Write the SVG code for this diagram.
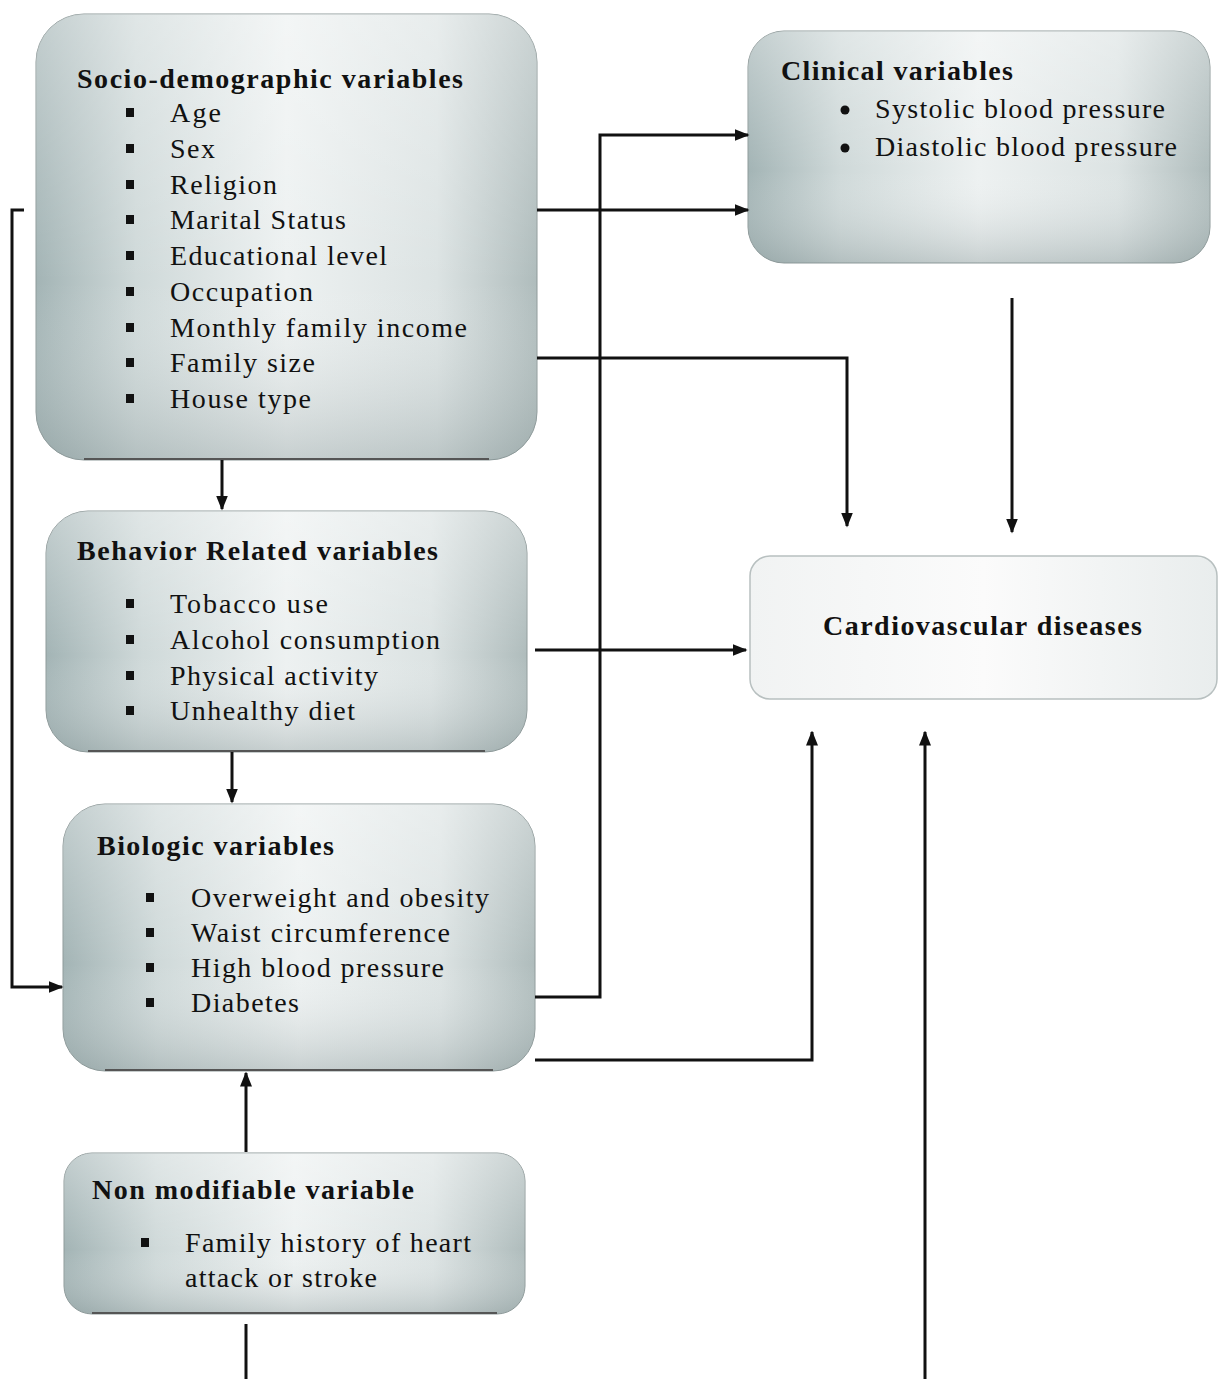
<svg xmlns="http://www.w3.org/2000/svg" width="1224" height="1379" viewBox="0 0 1224 1379">
<style>
.t{font-family:"Liberation Serif","Times New Roman",serif;fill:#111}
.h{font-size:28px;font-weight:bold}
.i{font-size:28px}
.c{stroke:#111;stroke-width:3;fill:none}
.box{fill:url(#gH);stroke:#8e9a9a;stroke-width:1}
.shade{fill:url(#gV)}
</style>
<defs>
<linearGradient id="gH" x1="0" y1="0" x2="1" y2="0">
<stop offset="0" stop-color="#a3b4b5"/>
<stop offset="0.2" stop-color="#cfd9d9"/>
<stop offset="0.5" stop-color="#edf1f1"/>
<stop offset="0.8" stop-color="#dce3e3"/>
<stop offset="1" stop-color="#afbcbc"/>
</linearGradient>
<linearGradient id="gV" x1="0" y1="0" x2="0" y2="1">
<stop offset="0" stop-color="#ffffff" stop-opacity="0.35"/>
<stop offset="0.6" stop-color="#ffffff" stop-opacity="0"/>
<stop offset="1" stop-color="#7f8f90" stop-opacity="0.35"/>
</linearGradient>
<linearGradient id="gL" x1="0" y1="0" x2="1" y2="0">
<stop offset="0" stop-color="#f1f3f3"/>
<stop offset="0.5" stop-color="#fbfbfb"/>
<stop offset="1" stop-color="#e9eded"/>
</linearGradient>
<marker id="ar" viewBox="0 0 10 10" refX="9" refY="5" markerWidth="5" markerHeight="5" orient="auto" markerUnits="strokeWidth">
<path d="M0,1 L10,5 L0,9 z" fill="#111"/>
</marker>
</defs>

<g id="node-socio">
<rect x="36" y="14" width="501" height="446" rx="48" class="box"/>
<rect x="36" y="14" width="501" height="446" rx="48" class="shade"/>
<path d="M84,459 L489,459" stroke="#555" stroke-width="2"/>
<text class="t h" x="77" y="88" textLength="386" lengthAdjust="spacing">Socio-demographic variables</text>
<g class="t i">
<text x="170" y="122" textLength="51" lengthAdjust="spacing">Age</text>
<text x="170" y="158" textLength="45" lengthAdjust="spacing">Sex</text>
<text x="170" y="194" textLength="107" lengthAdjust="spacing">Religion</text>
<text x="170" y="229" textLength="176" lengthAdjust="spacing">Marital Status</text>
<text x="170" y="265" textLength="217" lengthAdjust="spacing">Educational level</text>
<text x="170" y="301" textLength="143" lengthAdjust="spacing">Occupation</text>
<text x="170" y="337" textLength="297" lengthAdjust="spacing">Monthly family income</text>
<text x="170" y="372" textLength="145" lengthAdjust="spacing">Family size</text>
<text x="170" y="408" textLength="141" lengthAdjust="spacing">House type</text>
</g>
<g fill="#111">
<rect x="126" y="108" width="8" height="9"/>
<rect x="126" y="144" width="8" height="9"/>
<rect x="126" y="180" width="8" height="9"/>
<rect x="126" y="215" width="8" height="9"/>
<rect x="126" y="251" width="8" height="9"/>
<rect x="126" y="287" width="8" height="9"/>
<rect x="126" y="323" width="8" height="9"/>
<rect x="126" y="358" width="8" height="9"/>
<rect x="126" y="394" width="8" height="9"/>
</g>
</g>

<g id="node-clinical">
<rect x="748" y="31" width="462" height="232" rx="36" class="box"/>
<rect x="748" y="31" width="462" height="232" rx="36" class="shade"/>
<text class="t h" x="781" y="80" textLength="232" lengthAdjust="spacing">Clinical variables</text>
<circle cx="845" cy="110" r="4.5" fill="#111"/>
<circle cx="845" cy="148" r="4.5" fill="#111"/>
<text class="t i" x="875" y="118" textLength="290" lengthAdjust="spacing">Systolic blood pressure</text>
<text class="t i" x="875" y="156" textLength="302" lengthAdjust="spacing">Diastolic blood pressure</text>
</g>

<g id="node-cvd">
<rect x="750" y="556" width="467" height="143" rx="20" fill="url(#gL)" stroke="#b8c0c0" stroke-width="1.5"/>
<text class="t h" x="823" y="635" textLength="319" lengthAdjust="spacing">Cardiovascular diseases</text>
</g>

<g id="node-behavior">
<rect x="46" y="511" width="481" height="241" rx="42" class="box"/>
<rect x="46" y="511" width="481" height="241" rx="42" class="shade"/>
<path d="M88,751 L485,751" stroke="#555" stroke-width="2"/>
<text class="t h" x="77" y="560" textLength="361" lengthAdjust="spacing">Behavior Related variables</text>
<g class="t i">
<text x="170" y="613" textLength="158" lengthAdjust="spacing">Tobacco use</text>
<text x="170" y="649" textLength="270" lengthAdjust="spacing">Alcohol consumption</text>
<text x="170" y="685" textLength="208" lengthAdjust="spacing">Physical activity</text>
<text x="170" y="720" textLength="185" lengthAdjust="spacing">Unhealthy diet</text>
</g>
<g fill="#111">
<rect x="126" y="599" width="8" height="9"/>
<rect x="126" y="635" width="8" height="9"/>
<rect x="126" y="671" width="8" height="9"/>
<rect x="126" y="706" width="8" height="9"/>
</g>
</g>

<g id="node-biologic">
<rect x="63" y="804" width="472" height="267" rx="42" class="box"/>
<rect x="63" y="804" width="472" height="267" rx="42" class="shade"/>
<path d="M105,1070 L493,1070" stroke="#555" stroke-width="2"/>
<text class="t h" x="97" y="855" textLength="237" lengthAdjust="spacing">Biologic variables</text>
<g class="t i">
<text x="191" y="907" textLength="298" lengthAdjust="spacing">Overweight and obesity</text>
<text x="191" y="942" textLength="259" lengthAdjust="spacing">Waist circumference</text>
<text x="191" y="977" textLength="253" lengthAdjust="spacing">High blood pressure</text>
<text x="191" y="1012" textLength="108" lengthAdjust="spacing">Diabetes</text>
</g>
<g fill="#111">
<rect x="146" y="893" width="8" height="9"/>
<rect x="146" y="928" width="8" height="9"/>
<rect x="146" y="963" width="8" height="9"/>
<rect x="146" y="998" width="8" height="9"/>
</g>
</g>

<g id="node-nonmod">
<rect x="64" y="1153" width="461" height="161" rx="28" class="box"/>
<rect x="64" y="1153" width="461" height="161" rx="28" class="shade"/>
<path d="M92,1313 L497,1313" stroke="#555" stroke-width="2"/>
<text class="t h" x="92" y="1199" textLength="322" lengthAdjust="spacing">Non modifiable variable</text>
<rect x="141" y="1238" width="8" height="9" fill="#111"/>
<text class="t i" x="185" y="1252" textLength="286" lengthAdjust="spacing">Family history of heart</text>
<text class="t i" x="185" y="1287" textLength="192" lengthAdjust="spacing">attack or stroke</text>
</g>

<g id="connectors">
<path class="c" d="M24,210 L12,210 L12,987 L62,987" marker-end="url(#ar)"/>
<path class="c" d="M537,210 L748,210" marker-end="url(#ar)"/>
<path class="c" d="M537,358 L847,358 L847,526" marker-end="url(#ar)"/>
<path class="c" d="M535,997 L600,997 L600,135 L748,135" marker-end="url(#ar)"/>
<path class="c" d="M535,650 L746,650" marker-end="url(#ar)"/>
<path class="c" d="M1012,298 L1012,532" marker-end="url(#ar)"/>
<path class="c" d="M222,460 L222,509" marker-end="url(#ar)"/>
<path class="c" d="M232,752 L232,802" marker-end="url(#ar)"/>
<path class="c" d="M246,1152 L246,1073" marker-end="url(#ar)"/>
<path class="c" d="M535,1060 L812,1060 L812,732" marker-end="url(#ar)"/>
<path class="c" d="M925,1379 L925,732" marker-end="url(#ar)"/>
<path class="c" d="M246,1324 L246,1379"/>
</g>
</svg>
